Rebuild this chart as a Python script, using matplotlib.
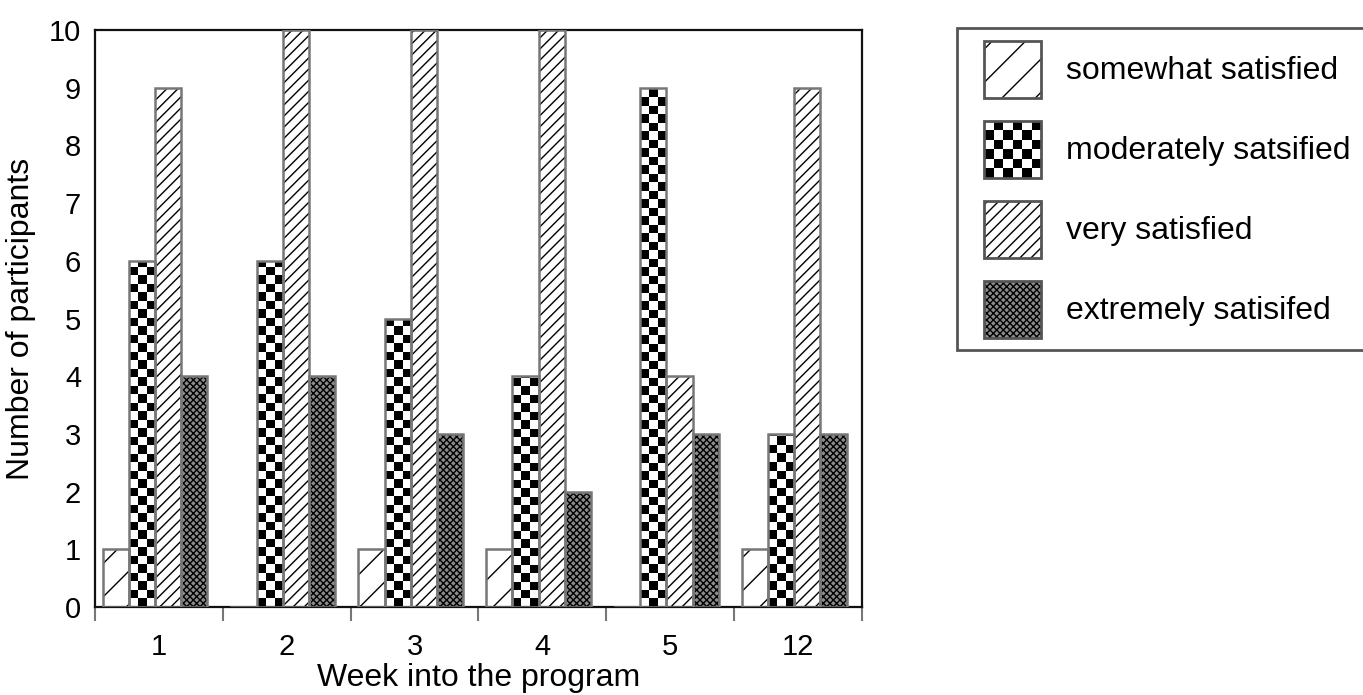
import numpy as np
import matplotlib
matplotlib.use('Agg')
import matplotlib.pyplot as plt
from matplotlib.patches import Rectangle, Patch
from matplotlib.lines import Line2D

plt.rcParams['font.family'] = ['Liberation Sans', 'DejaVu Sans']
plt.rcParams['hatch.linewidth'] = 1.0

# Données
weeks = ['1', '2', '3', '4', '5', '12']
labels = ['somewhat satisfied', 'moderately satsified', 'very satisfied', 'extremely satisifed']
somewhat = [1, 0, 1, 1, 0, 1]
moderately = [6, 6, 5, 4, 9, 3]
very = [9, 10, 10, 10, 4, 9]
extremely = [4, 4, 3, 2, 3, 3]

series = [somewhat, moderately, very, extremely]
hatches = ['/', None, '///', 'xxxxx']
fills = ['white', 'white', 'white', '#8c8c8c']
edge = '#777777'
fs = 23
fs_ticks = 21

fig = plt.figure(figsize=(13.63, 6.95), dpi=100)
ax = fig.add_axes([0.0697, 0.1266, 0.5627, 0.8302])

x = np.arange(len(weeks))
w = 0.205

# damier pour la série "moderately"
checker = (np.add.outer(np.arange(68), np.arange(90)) % 2).astype(float)

for k, vals in enumerate(series):
    pos = x - 0.03 + (k - 1.5) * w
    if hatches[k] is not None:
        ax.bar(pos, vals, w, color=fills[k], hatch=hatches[k], edgecolor='black',
               linewidth=0, zorder=2)
    else:
        bars = ax.bar(pos, vals, w, color='white', edgecolor='none', linewidth=0, zorder=2)
        for b in bars:
            im = ax.imshow(checker, cmap='gray', extent=(-0.5, 5.5, 0, 10), aspect='auto',
                           interpolation='nearest', zorder=2.5, vmin=0, vmax=1)
            im.set_clip_path(b)
    ax.bar(pos, vals, w, fill=False, edgecolor=edge, linewidth=1.8, zorder=3)

ax.set_xlim(-0.5, 5.5)
ax.set_ylim(0, 10)
ax.set_yticks(range(11))
ax.tick_params(axis='y', length=0, pad=10, labelsize=fs_ticks)

# graduations entre les groupes, étiquettes au centre
ax.set_xticks(np.arange(-0.5, 6, 1.0))
ax.set_xticklabels([])
ax.set_xticks(x, minor=True)
ax.set_xticklabels(weeks, minor=True)
ax.tick_params(axis='x', which='major', length=10, width=1.5, color='#777777', direction='out')
ax.tick_params(axis='x', which='minor', length=0, pad=19, labelsize=fs_ticks)

for s in ax.spines.values():
    s.set_linewidth(1.6)
    s.set_color('#111111')

ax.set_xlabel('Week into the program', fontsize=fs, labelpad=1)
ax.set_ylabel('Number of participants', fontsize=fs, labelpad=9)


class BoxHandler:
    def __init__(self, hatch=None, checker=False, face='white'):
        self.hatch = hatch
        self.checker = checker
        self.face = face

    def legend_artist(self, legend, orig_handle, fontsize, handlebox):
        ht = handlebox.height
        wd = ht
        # décalage à gauche pour laisser la marge du cadre
        x0 = -handlebox.xdescent + handlebox.width - wd
        y0 = -handlebox.ydescent
        tr = handlebox.get_transform()
        if self.checker:
            n = 6
            for i in range(n):
                for j in range(n):
                    if (i + j) % 2 == 0:
                        handlebox.add_artist(Rectangle((x0 + i * wd / n, y0 + j * ht / n), wd / n, ht / n,
                                                       facecolor='black', edgecolor='none', transform=tr))
        else:
            handlebox.add_artist(Rectangle((x0, y0), wd, ht, facecolor=self.face, hatch=self.hatch,
                                           edgecolor='black', linewidth=0, transform=tr))
        border = Rectangle((x0, y0), wd, ht, facecolor='none', edgecolor='#555555',
                           linewidth=2, transform=tr)
        handlebox.add_artist(border)
        return border


handles = [Patch(label=l) for l in labels]
hmap = {handles[0]: BoxHandler('/'), handles[1]: BoxHandler(checker=True),
        handles[2]: BoxHandler('///'), handles[3]: BoxHandler('xxxxx', face=fills[3])}
leg = fig.legend(handles=handles, labels=labels, handler_map=hmap, loc='upper left',
                 bbox_to_anchor=(957 / 1363, 1 - 28 / 695), frameon=False,
                 fontsize=fs, handlelength=2.24, handleheight=2.37,
                 labelspacing=0.72, handletextpad=0.78, borderpad=0.4, borderaxespad=0)

# cadre de la légende, ouvert à droite (coupé par le bord de l'image)
fl, ft, fb = 957 / 1363, 1 - 28 / 695, 1 - 350 / 695
fig.lines.append(Line2D([1.0, fl, fl, 1.0], [ft, ft, fb, fb], transform=fig.transFigure,
                        color='#555555', linewidth=2, solid_joinstyle='miter'))

plt.savefig('out.png', dpi=100)
